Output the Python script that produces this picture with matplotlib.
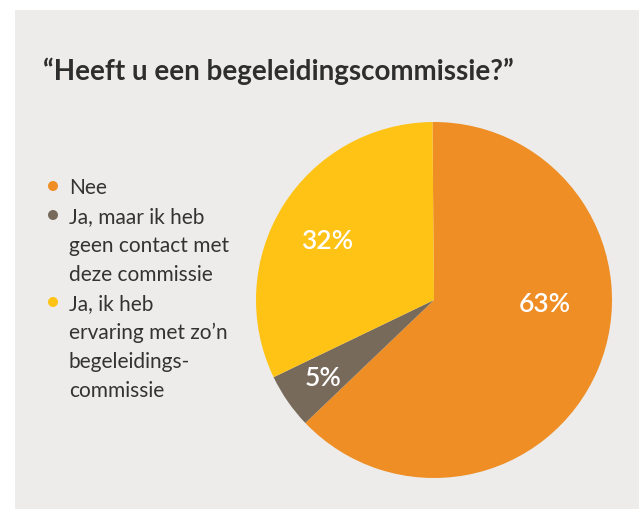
import numpy as np
import matplotlib
matplotlib.use('Agg')
import matplotlib.pyplot as plt
from matplotlib.patches import Rectangle, Ellipse

# data
labels = ["Nee",
          "Ja, maar ik heb\ngeen contact met\ndeze commissie",
          "Ja, ik heb\nervaring met zo\u2019n\nbegeleidings-\ncommissie"]
shares = [63, 5, 32]
colours = ['#EE8E25', '#776A5B', '#FEC315']
title = "\u201cHeeft u een begeleidingscommissie?\u201d"

# where the percentage labels sit (fraction of radius, angle in degrees)
pct_radius = [0.62, 0.76, 0.69]
pct_angle = [-1.6, 215, 151]

BG = '#EDECEA'
TEXT = '#2E2E2E'
W, H = 639, 510

plt.rcParams['font.family'] = ['Lato', 'DejaVu Sans']

fig = plt.figure(figsize=(W / 100, H / 100), dpi=100)
fig.patch.set_facecolor('white')
# light grey panel behind everything
fig.patches.append(Rectangle((15 / W, 0), 1 - 15 / W, 1 - 11 / H,
                             transform=fig.transFigure, facecolor=BG,
                             edgecolor='none', zorder=-5))

fig.text(43 / W, 1 - 80 / H, title, fontsize=20, fontweight='bold',
         color=TEXT, va='baseline', ha='left')

# pie
cx, cy, r = 434, 301, 178
ax = fig.add_axes([(cx - r) / W, (H - cy - r) / H, 2 * r / W, 2 * r / H])
ax.set_zorder(2)
ax.patch.set_alpha(0)
ax.pie(shares, colors=colours, startangle=90.5, counterclock=False,
       wedgeprops=dict(linewidth=0))
ax.set_xlim(-1, 1)
ax.set_ylim(-1, 1)
ax.set_aspect('equal')
ax.axis('off')

for s, rr, a in zip(shares, pct_radius, pct_angle):
    t = np.deg2rad(a)
    ax.text(rr * np.cos(t), rr * np.sin(t), f"{s}%", color='white',
            fontsize=19, fontweight='semibold', ha='center', va='center')

# legend as bulleted list
line_h = 29
y = 188
for lab, col in zip(labels, colours):
    fig.patches.append(Ellipse((53 / W, 1 - (y - 1) / H), 10 / W, 10 / H,
                               transform=fig.transFigure, facecolor=col,
                               edgecolor='none', zorder=3))
    for ln in lab.split('\n'):
        fig.text(69 / W, 1 - y / H, ln, fontsize=15, color='#333333',
                 va='center', ha='left')
        y += line_h

fig.savefig('out.png', dpi=100, facecolor=fig.get_facecolor())
